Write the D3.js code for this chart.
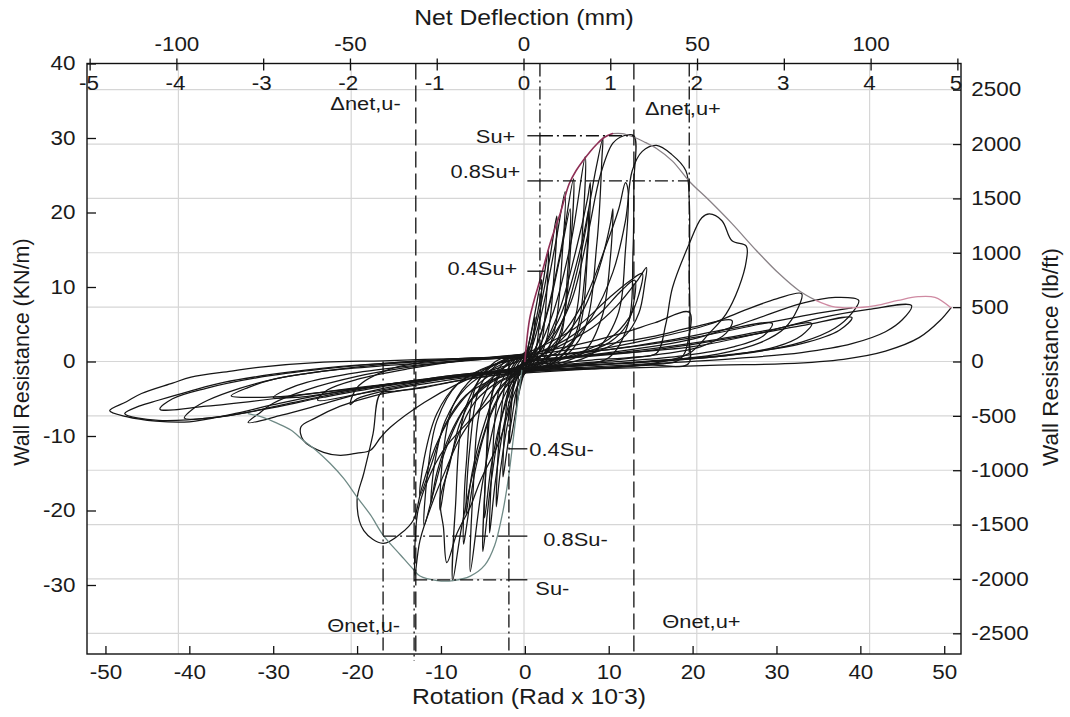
<!DOCTYPE html>
<html><head><meta charset="utf-8">
<script src="https://cdn.jsdelivr.net/npm/d3@7"></script>
<style>html,body{margin:0;background:#fff}svg{display:block}</style>
</head><body><svg id="chart" width="1070" height="717"></svg>
<script>
// ---------- tick values ----------
const rotationTicks = [-50, -40, -30, -20, -10, 0, 10, 20, 30, 40, 50];
const kNTicks = [-30, -20, -10, 0, 10, 20, 30, 40];
const lbTicks = [-2500, -2000, -1500, -1000, -500, 0, 500, 1000, 1500, 2000, 2500];
const mmTicks = [-125, -100, -75, -50, -25, 0, 25, 50, 75, 100, 125];
const mmLabelled = [-100, -50, 0, 50, 100];
const inchLabels = [-5, -4, -3, -2, -1, 0, 1, 2, 3, 4, 5];
const inchGrid = [-4, -2, 0, 2, 4];
const KN_TO_LBFT = 68.52;

// ---------- backbone (envelope) curves: [rotation x1e-3, kN/m] ----------
const envRise = [[0,0],[0.3,3.5],[0.6,5.9],[1.2,8.6],[1.8,10.9],[2.4,13.4],[3.0,15.8],[3.6,17.9],[4.2,19.8],[5.3,23.9],[6.1,25.6],[6.9,26.9],[7.8,28.2],[8.6,29.2],[9.5,30.1],[10.45,30.6]];
const envFall = [[10.45,30.6],[11.6,30.6],[12.8,30.2],[14.2,29.5],[15.7,28.6],[17.6,26.9],[19.6,24.2],[22.0,21.6],[24.7,18.5],[27.6,14.9],[30.3,11.8],[32.7,9.5],[34.7,8.2]];
const envTail = [[34.7,8.2],[36.6,7.4],[39.0,7.2],[41.8,7.5],[44.5,8.2],[46.9,8.7],[48.9,8.6],[50.8,7.2]];
const envNeg = [[-0.36,-1.2],[-0.83,-5.2],[-1.4,-10.6],[-2.0,-16.0],[-2.7,-20.6],[-3.6,-24.7],[-4.75,-27.3],[-6.5,-28.8],[-8.55,-29.4],[-10.45,-29.4],[-12.5,-28.8],[-13.3,-27.9],[-14.8,-26.0],[-16.9,-23.3],[-18.4,-20.6],[-20.0,-18.2],[-21.6,-15.7],[-23.2,-13.7],[-24.9,-11.9],[-26.4,-10.6],[-27.9,-9.2],[-29.5,-8.3],[-31.2,-7.5],[-33.0,-7.0]];

// ---------- hysteresis cycles ----------
const cyc01 = [[-0.2,-1.0],[0.3,1.5],[0.8,4.0],[1.2,6.0],[1.0,3.0],[0.6,0.5],[0.1,-0.8],[-0.4,-2.8],[-0.8,-4.8],[-1.0,-6.0],[-0.85,-3.0],[-0.5,-0.5],[0.0,0.6],[0.2,1.2]];
const cyc02 = [[-0.3,-1.2],[0.4,2.0],[1.2,6.5],[1.7,9.5],[2.0,11.0],[1.8,6.0],[1.2,1.0],[0.4,-0.8],[-0.4,-2.5],[-1.1,-6.8],[-1.5,-9.5],[-1.8,-11.0],[-1.6,-6.0],[-1.0,-0.8],[-0.2,0.6],[0.5,1.8]];
const cyc03 = [[-0.5,-1.0],[0.5,1.5],[1.5,6.5],[2.3,11.5],[2.8,15.0],[2.6,9.0],[1.9,2.0],[0.8,-0.6],[-0.6,-2.5],[-1.6,-8.0],[-2.2,-12.5],[-2.6,-15.5],[-2.4,-9.0],[-1.6,-1.5],[-0.3,0.8],[0.6,2.0]];
const cyc04 = [[-0.6,-0.8],[0.6,1.8],[1.8,7.0],[3.0,14.0],[3.8,19.5],[3.5,12.0],[2.6,3.0],[1.2,-0.5],[-0.8,-2.0],[-2.0,-8.0],[-2.9,-14.5],[-3.4,-19.5],[-3.1,-11.0],[-2.2,-2.5],[-0.8,0.4],[0.4,1.5]];
const cyc05 = [[-0.8,-0.9],[0.5,1.0],[2.0,6.5],[3.6,15.5],[4.8,22.8],[4.5,15.0],[3.5,4.0],[1.8,-0.3],[-0.5,-1.5],[-2.2,-7.0],[-3.5,-16.0],[-4.2,-23.0],[-3.9,-14.0],[-3.0,-3.5],[-1.2,0.2],[0.3,1.2]];
const cyc05b = [[-0.6,-0.6],[1.0,1.2],[2.8,7.0],[4.2,14.0],[5.4,20.5],[5.1,12.0],[4.0,2.5],[1.5,-0.4],[-1.0,-1.8],[-2.8,-7.5],[-4.0,-14.0],[-4.8,-21.0],[-4.5,-12.0],[-3.3,-2.0],[-0.8,0.6]];
const cyc06 = [[-1.0,-0.8],[0.8,0.8],[2.5,6.0],[4.3,15.0],[5.8,24.5],[5.5,16.0],[4.4,4.5],[2.3,-0.2],[-0.5,-1.6],[-2.5,-6.5],[-4.0,-16.0],[-5.0,-25.5],[-4.7,-16.0],[-3.8,-4.0],[-1.6,0.3],[0.5,1.0]];
const cyc07 = [[-1.2,-0.9],[1.0,0.8],[3.2,6.0],[5.5,16.0],[7.2,27.5],[6.9,18.0],[5.8,5.0],[3.0,-0.2],[-0.5,-1.5],[-3.0,-6.0],[-5.0,-16.0],[-6.5,-28.2],[-6.2,-18.0],[-5.0,-5.0],[-2.0,0.3],[0.5,0.8]];
const cyc07b = [[-1.0,-0.7],[1.5,1.0],[4.0,6.5],[6.0,14.5],[7.5,22.0],[7.8,24.0],[7.5,15.0],[6.2,3.5],[3.0,-0.5],[-1.0,-1.7],[-3.8,-6.5],[-5.8,-14.0],[-7.0,-22.5],[-7.3,-24.5],[-7.0,-14.0],[-5.5,-2.5],[-2.0,0.5],[0.5,0.9]];
const cyc08 = [[-1.5,-1.0],[1.0,0.5],[4.0,5.5],[6.8,16.0],[8.5,26.0],[9.3,30.0],[9.2,27.5],[8.6,16.0],[7.0,4.0],[4.0,0.0],[0.0,-1.3],[-3.0,-4.5],[-5.5,-12.0],[-7.5,-22.0],[-8.6,-29.4],[-8.3,-20.0],[-7.0,-6.0],[-3.5,0.0],[0.0,1.0]];
const cyc18 = [[-1.0,-0.8],[2.0,0.8],[4.5,5.5],[6.2,12.0],[7.3,18.0],[7.6,20.3],[7.2,12.0],[5.8,3.0],[3.0,-0.4],[0.0,-1.2],[-3.0,-3.5],[-5.0,-9.0],[-6.3,-15.0],[-7.0,-20.5],[-6.6,-12.0],[-5.2,-3.0],[-2.5,0.2],[0.0,0.8]];
const cyc19 = [[-2.0,-1.2],[1.0,0.2],[4.0,2.5],[7.0,7.0],[9.0,13.0],[10.2,18.5],[10.5,20.5],[10.2,14.0],[9.2,6.0],[7.0,1.2],[3.0,-0.6],[0.0,-1.3],[-3.0,-2.6],[-6.0,-5.5],[-8.0,-10.0],[-9.4,-15.5],[-10.1,-20.0],[-9.8,-13.0],[-8.6,-6.0],[-6.0,-2.0],[-2.0,0.3],[0.0,0.9]];
const cyc16 = [[-2.0,-1.3],[1.0,0.0],[4.0,3.0],[7.0,8.0],[9.5,15.0],[11.2,20.5],[12.0,24.0],[12.3,23.0],[12.0,15.0],[11.0,6.0],[8.0,1.0],[4.0,-0.5],[0.0,-1.4],[-4.0,-2.6],[-7.0,-6.0],[-9.5,-12.0],[-11.0,-18.0],[-12.0,-22.0],[-11.6,-15.0],[-10.5,-8.0],[-8.0,-3.0],[-4.0,-0.5],[0.0,0.5]];
const cyc09 = [[0.0,0.5],[3.0,3.0],[5.5,8.0],[7.5,17.0],[9.0,25.0],[10.5,29.3],[11.8,30.3],[13.0,30.3],[13.0,24.0],[12.9,15.0],[12.3,5.0],[10.0,0.5],[6.0,-0.5],[0.0,-1.5],[-3.0,-2.8],[-5.3,-6.2],[-7.7,-10.2],[-9.3,-14.2],[-10.9,-18.6],[-12.5,-24.0],[-13.1,-28.7],[-12.8,-20.4],[-11.6,-16.0],[-9.7,-11.9],[-6.9,-8.3],[-3.8,-4.8],[-1.0,-1.2],[0.5,0.3]];
const cyc10 = [[-1.0,-1.2],[2.0,0.2],[5.0,2.0],[8.0,6.0],[10.5,12.0],[12.0,18.9],[12.8,25.6],[14.0,28.2],[15.7,29.0],[17.5,27.8],[19.2,25.6],[19.6,21.6],[19.6,12.0],[19.5,3.0],[18.5,0.3],[14.0,-0.5],[8.0,-1.0],[2.0,-1.4],[-3.0,-1.8],[-8.0,-2.6],[-12.0,-3.5],[-15.5,-4.0],[-17.2,-4.3],[-18.1,-9.7],[-19.2,-15.0],[-20.0,-18.6],[-19.2,-22.7],[-16.9,-24.4],[-14.8,-23.1],[-13.3,-21.3],[-12.3,-17.0],[-10.5,-11.0],[-8.0,-6.0],[-5.0,-2.5],[-2.0,-0.5],[0.0,0.5]];
const cyc11 = [[0.0,-0.5],[8.0,0.2],[13.0,0.6],[15.7,1.1],[16.8,5.0],[17.6,9.9],[19.6,15.8],[21.1,19.3],[22.0,19.8],[23.5,18.9],[24.7,16.2],[26.4,15.5],[26.4,13.5],[25.5,9.9],[24.0,6.4],[22.0,3.8],[19.6,1.1],[15.0,-0.3],[8.0,-0.9],[0.0,-1.4],[-6.0,-2.2],[-12.0,-3.4],[-18.0,-4.6],[-22.0,-6.0],[-25.0,-7.6],[-26.7,-8.8],[-26.4,-10.6],[-24.0,-12.2],[-22.0,-12.6],[-20.0,-12.3],[-18.4,-11.9],[-17.2,-10.2],[-16.0,-8.8],[-12.0,-5.5],[-8.0,-3.0],[-4.0,-1.2],[0.0,0.2]];
const cyc12 = [[-2.0,-1.5],[0.0,-0.3],[4.0,2.0],[8.0,4.5],[11.0,7.5],[13.5,11.0],[14.5,12.6],[14.3,10.5],[13.6,6.5],[12.0,3.5],[9.0,1.5],[4.0,0.2],[0.0,-0.8],[-4.0,-2.5],[-7.0,-4.5],[-9.5,-8.5],[-11.2,-14.0],[-12.5,-18.0],[-12.0,-13.0],[-10.5,-7.0],[-8.0,-3.0],[-4.0,-0.6],[0.0,0.6]];
const cyc13 = [[0.0,0.5],[5.0,3.0],[9.0,6.5],[11.5,9.5],[13.1,10.9],[13.0,8.0],[12.2,5.0],[10.0,2.5],[6.0,0.8],[0.0,-0.5],[-3.0,-1.5],[-6.0,-4.5],[-7.8,-8.5],[-9.0,-14.0],[-10.1,-18.6],[-9.7,-22.3],[-9.3,-27.0],[-8.1,-23.1],[-6.5,-19.5],[-5.3,-16.0],[-3.0,-10.6],[-1.5,-5.0],[0.0,-1.0]];
const cyc14 = [[0.0,1.0],[6.0,4.5],[10.0,8.5],[12.5,10.8],[14.0,11.8],[13.6,9.0],[12.5,6.0],[10.0,3.0],[6.0,1.0],[0.0,-0.8],[-4.0,-2.8],[-7.0,-6.0],[-9.0,-10.0],[-10.5,-15.0],[-11.2,-19.0],[-10.8,-14.0],[-9.5,-8.0],[-7.0,-3.5],[-3.0,-0.5],[0.0,0.8]];
const cyc15 = [[0.0,1.0],[6.0,2.2],[11.0,3.6],[15.5,5.2],[19.6,6.6],[19.6,3.0],[19.5,-0.3],[15.0,-0.5],[8.0,-0.9],[0.0,-1.2],[-6.0,-2.0],[-12.0,-3.0],[-17.0,-4.0],[-20.0,-5.0],[-20.8,-5.8],[-20.0,-3.5],[-16.0,-1.0],[-10.0,0.2],[-4.0,0.6],[0.0,1.0]];
const leafA = [[50.8,7.2],[49.5,5.5],[47.0,3.2],[43.0,1.4],[38.0,0.3],[31.0,-0.3],[23.0,-0.5],[15.0,-0.8],[8.0,-1.0],[0.0,-1.3],[-8.0,-2.0],[-16.0,-3.0],[-24.0,-4.4],[-30.0,-5.8],[-35.0,-7.1],[-40.0,-8.1],[-44.0,-8.0],[-47.5,-7.4],[-49.5,-6.6],[-47.5,-5.4],[-45.7,-4.3],[-42.0,-2.9],[-39.8,-2.1],[-35.0,-1.3],[-31.8,-0.8],[-24.0,-0.1],[-16.9,0.1],[-8.0,0.4],[0.0,0.6],[10.0,1.6],[20.0,3.2],[28.0,5.0],[34.0,6.3],[39.0,7.2]];
const leafB = [[0.0,0.2],[10.0,1.0],[20.0,2.0],[28.0,3.8],[35.0,5.8],[41.0,7.0],[46.1,7.5],[45.0,5.6],[43.0,4.0],[39.0,2.4],[33.0,1.2],[25.0,0.4],[15.0,-0.3],[5.0,-0.9],[0.0,-1.2],[-8.0,-2.1],[-16.0,-3.2],[-24.0,-4.8],[-31.0,-6.4],[-37.0,-7.5],[-43.7,-7.9],[-47.7,-7.0],[-46.0,-6.0],[-43.7,-5.2],[-40.0,-4.0],[-35.9,-2.8],[-27.9,-1.4],[-20.0,-0.5],[-10.0,0.2],[0.0,0.5]];
const leafC = [[0.0,0.0],[10.0,1.2],[20.0,3.0],[27.0,5.5],[33.0,7.8],[37.0,8.6],[39.8,8.2],[39.0,6.5],[37.0,4.5],[33.0,2.6],[27.0,1.2],[18.0,0.2],[8.0,-0.5],[0.0,-1.0],[-8.0,-1.8],[-15.0,-2.9],[-22.0,-4.2],[-28.0,-5.6],[-33.0,-6.8],[-37.0,-7.5],[-40.6,-7.6],[-39.5,-6.3],[-37.8,-5.2],[-34.0,-3.6],[-30.0,-2.4],[-24.0,-1.3],[-16.0,-0.3],[-8.0,0.3],[0.0,0.6]];
const leafD = [[0.0,0.5],[8.0,1.5],[15.0,3.0],[22.0,5.0],[26.0,6.8],[30.0,8.4],[33.0,9.1],[32.5,7.0],[31.0,4.5],[28.0,2.5],[23.0,1.0],[15.0,0.0],[6.0,-0.6],[0.0,-1.0],[-7.0,-2.0],[-14.0,-3.0],[-20.0,-4.4],[-25.0,-6.0],[-29.0,-7.2],[-33.0,-8.2],[-31.5,-6.8],[-30.0,-5.6],[-26.0,-3.8],[-20.0,-2.0],[-14.0,-0.8],[-7.0,0.2],[0.0,0.8]];
const leafE = [[0.0,0.2],[12.0,1.3],[22.0,2.8],[29.0,4.2],[34.2,5.1],[33.0,3.5],[30.0,2.0],[24.0,0.8],[15.0,0.0],[5.0,-0.6],[0.0,-1.0],[-10.0,-2.2],[-20.0,-3.6],[-28.0,-4.6],[-32.0,-4.8],[-35.0,-4.6],[-33.0,-3.5],[-30.0,-2.4],[-24.0,-1.3],[-16.0,-0.5],[-8.0,0.1],[0.0,0.6]];
const leafF = [[0.0,0.5],[10.0,1.6],[18.0,3.0],[24.0,4.3],[29.5,5.1],[28.5,3.5],[25.0,2.0],[19.0,0.8],[10.0,-0.1],[0.0,-0.9],[-8.0,-1.8],[-16.0,-3.0],[-23.0,-4.2],[-27.0,-4.8],[-30.0,-4.8],[-28.5,-3.8],[-26.0,-2.8],[-20.0,-1.5],[-12.0,-0.4],[-5.0,0.3],[0.0,0.7]];
const leafG = [[0.0,0.8],[8.0,2.0],[15.0,3.3],[20.0,4.6],[24.7,5.5],[24.0,3.8],[21.0,2.0],[15.0,0.8],[7.0,-0.2],[0.0,-0.8],[-7.0,-1.8],[-14.0,-3.2],[-20.0,-4.4],[-24.7,-5.2],[-23.5,-3.8],[-20.0,-2.4],[-14.0,-1.0],[-7.0,0.2],[0.0,0.9]];
const leafH = [[0.0,0.0],[15.0,1.5],[25.0,3.2],[33.0,4.8],[39.0,5.9],[37.5,4.2],[33.0,2.4],[25.0,1.0],[14.0,0.0],[0.0,-1.1],[-10.0,-2.2],[-20.0,-3.5],[-30.0,-5.0],[-38.0,-6.0],[-43.5,-6.4],[-42.0,-5.0],[-38.0,-3.6],[-32.0,-2.2],[-24.0,-1.0],[-14.0,0.0],[0.0,0.7]];

const cycles = [cyc01, cyc02, cyc03, cyc04, cyc05, cyc05b, cyc06, cyc07, cyc07b, cyc08, cyc18, cyc19, cyc16,
                cyc09, cyc10, cyc11, cyc12, cyc13, cyc14, cyc15,
                leafA, leafB, leafC, leafD, leafE, leafF, leafG, leafH];

// ---------- ultimate-point markers (kN/m, rotation) ----------
const SuPos = 30.3, SuNeg = -29.3;
const deltaUNeg = -13.0, deltaUPos = 13.0;   // long-dash verticals
const thetaUNeg = -16.9, thetaUPos = 19.6;   // dash-dot verticals at 0.8Su
const elasticPos = 1.8, elasticNeg = -1.9;   // dash-dot verticals at 0.4Su
const suNegRot = -13.2;

// ---------- layout ----------
const L = 87, R = 961, T = 63.5, B = 654;
const SX = 1.15;
const FONT = "'Liberation Sans', Arial, Helvetica, sans-serif";
const svg = d3.select('#chart');
svg.append('rect').attr('width', 1070).attr('height', 717).attr('fill', '#fff');

const xRot = d3.scaleLinear().domain([-52.2, 52.0]).range([L, R]);
const yKN = d3.scaleLinear().domain([(361.5 - B) / 7.45, 40]).range([B, T]);
const xMM = d3.scaleLinear().domain([-125.9, 125.9]).range([L, R]);
const xIn = d3.scaleLinear().domain([-5, 5]).range([92, 956]);
const yLb = d3.scaleLinear().domain(yKN.domain().map(v => v * KN_TO_LBFT)).range([B, T]);

// grid
const grid = svg.append('g').attr('stroke', '#d6d6d6').attr('stroke-width', 1.2);
grid.selectAll('line.h').data(lbTicks).join('line')
  .attr('x1', L).attr('x2', R).attr('y1', d => yLb(d)).attr('y2', d => yLb(d));
grid.selectAll('line.v').data(inchGrid).join('line')
  .attr('y1', T).attr('y2', B).attr('x1', d => xIn(d)).attr('x2', d => xIn(d));

// hysteresis curves
const line = d3.line().x(d => xRot(d[0])).y(d => yKN(d[1])).curve(d3.curveCatmullRom.alpha(0.5));
const curves = svg.append('g').attr('fill', 'none').attr('stroke-linejoin', 'round').attr('stroke-linecap', 'round');
curves.selectAll('path.cyc').data(cycles).join('path')
  .attr('d', line).attr('stroke', '#161616').attr('stroke-width', 1.25);
curves.append('path').attr('d', line(envNeg)).attr('stroke', '#6f8a86').attr('stroke-width', 1.3);
curves.append('path').attr('d', line(envFall)).attr('stroke', '#8a8287').attr('stroke-width', 1.3);
curves.append('path').attr('d', line(envTail)).attr('stroke', '#cf8aa2').attr('stroke-width', 1.3);
curves.append('path').attr('d', line(envRise)).attr('stroke', '#8e2f55').attr('stroke-width', 1.6);

// annotation lines
const ann = svg.append('g').attr('stroke', '#111').attr('stroke-width', 1.3).attr('fill', 'none');
const LONG = '16,6', DASHDOT = '13,4,2,4';
function seg(x1, y1, x2, y2, dash) {
  ann.append('line').attr('x1', x1).attr('y1', y1).attr('x2', x2).attr('y2', y2)
    .attr('stroke-dasharray', dash || null);
}
seg(xRot(deltaUNeg), T, xRot(deltaUNeg), B, LONG);
seg(xRot(deltaUPos), T, xRot(deltaUPos), B, LONG);
seg(xRot(elasticPos), T, xRot(elasticPos), yKN(0), DASHDOT);
seg(xRot(thetaUPos), T, xRot(thetaUPos), yKN(0), DASHDOT);
seg(xRot(thetaUNeg), yKN(0), xRot(thetaUNeg), B, DASHDOT);
seg(xRot(elasticNeg), yKN(0), xRot(elasticNeg), B, DASHDOT);
seg(xRot(suNegRot), yKN(0), xRot(suNegRot), B + 7, DASHDOT);
// strength levels
seg(xRot(0.3), yKN(SuPos), xRot(elasticPos), yKN(SuPos));
seg(xRot(elasticPos), yKN(SuPos), xRot(deltaUPos), yKN(SuPos), DASHDOT);
seg(xRot(0.3), yKN(0.8 * SuPos), xRot(elasticPos), yKN(0.8 * SuPos));
seg(xRot(elasticPos), yKN(0.8 * SuPos), xRot(thetaUPos), yKN(0.8 * SuPos), DASHDOT);
seg(xRot(0.3), yKN(0.4 * SuPos), xRot(2.4), yKN(0.4 * SuPos));
seg(xRot(elasticNeg), yKN(0.4 * SuNeg), xRot(0.3), yKN(0.4 * SuNeg));
seg(xRot(thetaUNeg), yKN(0.8 * SuNeg), xRot(elasticNeg), yKN(0.8 * SuNeg), DASHDOT);
seg(xRot(elasticNeg), yKN(0.8 * SuNeg), xRot(0.3), yKN(0.8 * SuNeg));
seg(xRot(suNegRot), yKN(SuNeg), xRot(elasticNeg), yKN(SuNeg), DASHDOT);
seg(xRot(elasticNeg), yKN(SuNeg), xRot(0.3), yKN(SuNeg));

// frame
svg.append('rect').attr('x', L).attr('y', T).attr('width', R - L).attr('height', B - T)
  .attr('fill', 'none').attr('stroke', '#111').attr('stroke-width', 1.4);

// text helper (glyphs slightly widened)
function label(x, y, s, anchor, size) {
  return svg.append('text').attr('transform', `translate(${x},${y}) scale(${SX},1)`)
    .attr('text-anchor', anchor).attr('dominant-baseline', 'central')
    .attr('font-family', FONT).attr('font-size', size).attr('fill', '#1a1a1a').text(s);
}
function styleAxis(g) {
  g.select('.domain').remove();
  g.selectAll('line').attr('stroke', '#111').attr('stroke-width', 1.3);
  g.selectAll('text').attr('font-family', FONT).attr('font-size', 19.5).attr('fill', '#1a1a1a')
    .attr('transform', `scale(${SX},1)`);
}
const fmt = d => String(d);

svg.append('g').attr('transform', `translate(${L},0)`)
  .call(d3.axisLeft(yKN).tickValues(kNTicks).tickSizeInner(-9).tickSizeOuter(0).tickPadding(10).tickFormat(fmt))
  .call(styleAxis);
svg.append('g').attr('transform', `translate(0,${B})`)
  .call(d3.axisBottom(xRot).tickValues(rotationTicks).tickSizeInner(-8).tickSizeOuter(0).tickPadding(11).tickFormat(fmt))
  .call(styleAxis);
svg.append('g').attr('transform', `translate(${R},0)`)
  .call(d3.axisRight(yLb).tickValues(lbTicks).tickSizeInner(-8).tickSizeOuter(0).tickPadding(9).tickFormat(fmt))
  .call(styleAxis);

// top deflection axis (mm): ticks every 25, labels every 50
const topAxis = svg.append('g');
topAxis.selectAll('line').data(mmTicks).join('line')
  .attr('x1', d => xMM(d)).attr('x2', d => xMM(d)).attr('y1', T - 5).attr('y2', T + 7)
  .attr('stroke', '#111').attr('stroke-width', 1.3);
mmLabelled.forEach(v => label(xMM(v), 44, fmt(v), 'middle', 19.5));
// inner secondary scale labels
inchLabels.forEach(v => label(xIn(v) - (v < 0 ? 3 : 0), 83, fmt(v), 'middle', 19.5));

// axis titles
label(524, 18, 'Net Deflection (mm)', 'middle', 21.5);
const rt = svg.append('text').attr('transform', `translate(529,697) scale(${SX},1)`)
  .attr('text-anchor', 'middle').attr('dominant-baseline', 'central')
  .attr('font-family', FONT).attr('font-size', 21.5).attr('fill', '#1a1a1a');
rt.append('tspan').text('Rotation (Rad x 10');
rt.append('tspan').attr('dy', -6).attr('font-size', 16).text('-');
rt.append('tspan').attr('dy', 6).text('3)');

svg.append('text').attr('transform', 'translate(22,352) rotate(-90)')
  .attr('text-anchor', 'middle').attr('dominant-baseline', 'central')
  .attr('font-family', FONT).attr('font-size', 21.5).attr('fill', '#1a1a1a').text('Wall Resistance (KN/m)');
svg.append('text').attr('transform', 'translate(1050,357) rotate(-90)')
  .attr('text-anchor', 'middle').attr('dominant-baseline', 'central')
  .attr('font-family', FONT).attr('font-size', 22.5).attr('fill', '#1a1a1a').text('Wall Resistance (lb/ft)');

// annotation labels
label(xRot(0.3) - 12, yKN(SuPos), 'Su+', 'end', 19);
label(xRot(0.3) - 7, yKN(0.8 * SuPos) - 10, '0.8Su+', 'end', 19);
label(xRot(0.3) - 10, yKN(0.4 * SuPos) - 3, '0.4Su+', 'end', 19);
label(xRot(0.3) + 2, yKN(0.4 * SuNeg), '0.4Su-', 'start', 19);
label(xRot(0.3) + 16, yKN(0.8 * SuNeg) + 3, '0.8Su-', 'start', 19);
label(xRot(0.3) + 8, yKN(SuNeg) + 8, 'Su-', 'start', 19);
label(xRot(deltaUNeg) - 15, 103, 'Δnet,u-', 'end', 19);
label(xRot(deltaUPos) + 11, 108, 'Δnet,u+', 'start', 19);
label(xRot(thetaUNeg) + 17, 625, 'Θnet,u-', 'end', 19);
label(xRot(thetaUPos) - 27, 621, 'Θnet,u+', 'start', 19);
</script></body></html>
